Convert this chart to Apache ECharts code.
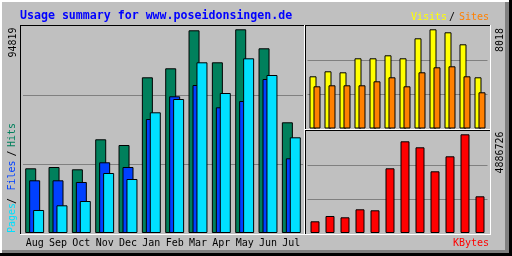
<!DOCTYPE html>
<html><head><meta charset="utf-8">
<script src="https://cdn.jsdelivr.net/npm/echarts@6/dist/echarts.min.js"></script>
<style>html,body{margin:0;padding:0;background:#C0C0C0}#c{width:512px;height:256px}</style>
</head><body><div id="c"></div>
<script>
const months = ['Aug','Sep','Oct','Nov','Dec','Jan','Feb','Mar','Apr','May','Jun','Jul'];
const hits   = [30118,30723,29652,43617,40964,72478,76668,94357,79461,94819,85978,51531];
const files  = [24532,24532,23741,32911,30723,53067,63634,68894,58513,61446,71687,34773];
const pages  = [10707,12894,14896,27930,25137,56186,62377,79461,65170,81323,73549,44548];
const visits = [4219,4623,4543,5674,5674,5917,5674,7291,8018,7776,6806,4138];
const sites  = [3411,3492,3492,3492,3815,4138,3411,4543,4947,5028,4219,2926];
const kbytes = [579280,841690,777320,1173400,1123900,3203400,4540200,4243100,3054800,3797500,4886726,1817100];
const maxHitsLabel = '94819';
const maxVisitsLabel = '8018';
const maxKbytesLabel = '4886726';
const title = 'Usage summary for www.poseidonsingen.de';

const FONT = 'DejaVu Sans Mono';
const chart = echarts.init(document.getElementById('c'), null, {renderer:'canvas'});

const M0 = 96360, M1 = 8326, M2 = 5050000;
function yAx(gi, max){
  return {gridIndex:gi, type:'value', min:0, max:max, interval:max/3,
    axisLabel:{show:false}, axisLine:{show:false}, axisTick:{show:false},
    splitLine:{show:true, showMinLine:false, showMaxLine:false, lineStyle:{color:'#808080', width:1}}};
}
function xAx(gi, showLabels){
  return {gridIndex:gi, type:'category', data:months,
    axisLine:{show:false}, axisTick:{show:false}, splitLine:{show:false},
    axisLabel:{show:showLabels, color:'#000', fontFamily:FONT, fontSize:10, margin:5, interval:0}};
}
const bs = {borderColor:'#000', borderWidth:1};
function hline(x1,x2,y,c){return {type:'rect', z:100, shape:{x:x1,y:y,width:x2-x1+1,height:1}, style:{fill:c}};}
function vline(x,y1,y2,c){return {type:'rect', z:100, shape:{x:x,y:y1,width:1,height:y2-y1+1}, style:{fill:c}};}
function txt(t,x,y,c,opts){
  opts = opts||{};
  const st = {text:t, fill:c, font:(opts.bold?'bold ':'')+(opts.size||10)+'px "'+FONT+'"',
    align:opts.align||'left', verticalAlign:'middle'};
  if(opts.shadow){st.textShadowColor='#707070'; st.textShadowOffsetX=1; st.textShadowOffsetY=1; st.textShadowBlur=0;}
  return {type:'text', z:100, x:x, y:y, rotation:opts.rot||0, style:st};
}
const R = Math.PI/2;
chart.setOption({
  animation:false,
  backgroundColor:'#C0C0C0',
  grid:[
    {left:23, top:26, width:280, height:207},
    {left:307.5, top:25.5, width:180, height:103},
    {left:307.5, top:131, width:180, height:102}
  ],
  xAxis:[xAx(0,true), xAx(1,false), xAx(2,false)],
  yAxis:[yAx(0,M0), yAx(1,M1), yAx(2,M2)],
  series:[
    {type:'bar', xAxisIndex:0, yAxisIndex:0, data:hits, barWidth:11, barGap:'-64%', itemStyle:Object.assign({color:'#00805C'},bs)},
    {type:'bar', xAxisIndex:0, yAxisIndex:0, data:files, barWidth:11, barGap:'-64%', itemStyle:Object.assign({color:'#0040FF'},bs)},
    {type:'bar', xAxisIndex:0, yAxisIndex:0, data:pages, barWidth:11, barGap:'-64%', itemStyle:Object.assign({color:'#00E0FF'},bs)},
    {type:'bar', xAxisIndex:1, yAxisIndex:1, data:visits, barWidth:7, barGap:'-43%', itemStyle:Object.assign({color:'#FFFF00'},bs)},
    {type:'bar', xAxisIndex:1, yAxisIndex:1, data:sites, barWidth:7, barGap:'-43%', itemStyle:Object.assign({color:'#FF8000'},bs)},
    {type:'bar', xAxisIndex:2, yAxisIndex:2, data:kbytes, barWidth:9, itemStyle:Object.assign({color:'#FF0000'},bs)}
  ],
  graphic:[
    // outer frame
    hline(0,511,0,'#FFFFFF'), hline(0,511,1,'#FFFFFF'),
    vline(0,0,255,'#FFFFFF'), vline(1,0,255,'#FFFFFF'),
    {type:'rect', z:99, shape:{x:505,y:2,width:4,height:252}, style:{fill:'#808080'}},
    {type:'rect', z:99, shape:{x:2,y:250,width:507,height:4}, style:{fill:'#808080'}},
    {type:'rect', z:100, shape:{x:509,y:0,width:3,height:256}, style:{fill:'#000'}},
    {type:'rect', z:100, shape:{x:0,y:253,width:512,height:3}, style:{fill:'#000'}},
    // left panel
    hline(20,304,25,'#000'), vline(20,25,234,'#000'),
    hline(20,304,234,'#FFFFFF'), vline(304,25,234,'#FFFFFF'),
    // top right panel
    hline(305,490,25,'#000'), vline(305,25,129,'#000'),
    hline(305,490,129,'#FFFFFF'), vline(490,25,129,'#FFFFFF'),
    // bottom right panel
    hline(305,490,130,'#000'), vline(305,130,234,'#000'),
    hline(305,490,234,'#FFFFFF'), vline(490,130,234,'#FFFFFF'),
    // texts
    txt(title, 20, 15.5, '#0000FF', {bold:true, size:11.6}),
    txt('Visits', 411, 17.5, '#FFFF00', {shadow:true}),
    txt('/', 449, 17.5, '#000'),
    txt('Sites', 459, 17.5, '#FF8000', {shadow:true}),
    txt('KBytes', 453, 243.5, '#FF0000', {shadow:true}),
    txt(maxHitsLabel, 13, 42.5, '#000', {rot:R, align:'center'}),
    txt(maxVisitsLabel, 500, 40, '#000', {rot:R, align:'center'}),
    txt(maxKbytesLabel, 500, 152.5, '#000', {rot:R, align:'center'}),
    txt('Pages', 12.5, 218, '#00E0FF', {rot:R, align:'center', shadow:true}),
    txt('/', 12.5, 201, '#000', {rot:R, align:'center'}),
    txt('Files', 12.5, 175.5, '#0040FF', {rot:R, align:'center', shadow:true}),
    txt('/', 12.5, 153.5, '#000', {rot:R, align:'center'}),
    txt('Hits', 12.5, 135, '#00805C', {rot:R, align:'center', shadow:true})
  ]
});
</script></body></html>
